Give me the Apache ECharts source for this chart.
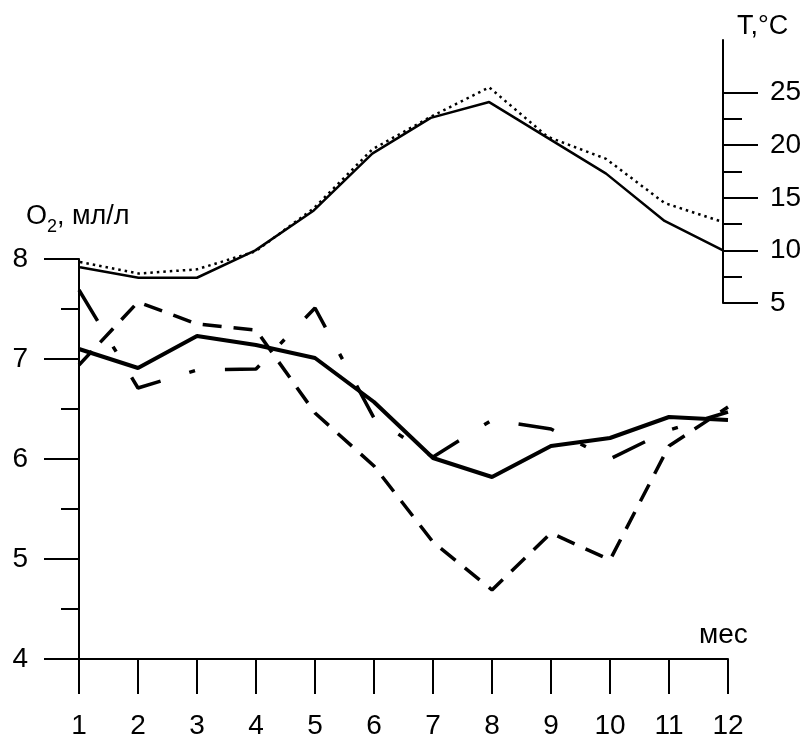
<!DOCTYPE html>
<html>
<head>
<meta charset="utf-8">
<script src="https://cdn.jsdelivr.net/npm/echarts@6/dist/echarts.min.js"></script>
<style>html,body{margin:0;padding:0;background:#fff}#c{width:809px;height:740px}</style>
</head>
<body>
<div id="c"></div>
<script>
// Months
const months = [1,2,3,4,5,6,7,8,9,10,11,12];
// Temperature, °C (right axis)
const tempSolid  = [8.4, 7.4, 7.4, 10.0, 13.8, 19.2, 22.6, 24.1, 20.7, 17.3, 12.8, 10.0];
const tempDotted = [8.9, 7.8, 8.2, 9.9, 14.0, 19.6, 22.7, 25.5, 20.8, 18.7, 14.5, 12.7];
// Oxygen, ml/l (left axis)
const o2Solid   = [7.10, 6.91, 7.23, 7.14, 7.01, 6.57, 6.01, 5.82, 6.13, 6.21, 6.42, 6.39];
const o2Dashed  = [6.94, 7.57, 7.35, 7.29, 6.46, 5.93, 5.17, 4.69, 5.26, 4.99, 6.13, 6.52];
const o2DashDot = [7.69, 6.71, 6.89, 6.90, 7.51, 6.41, 6.02, 6.39, 6.30, 6.00, 6.29, 6.47];
// Tick labels
const o2Ticks = [4,5,6,7,8];
const tMajor = [5,10,15,20,25];
const tMinor = [7.5,12.5,17.5,22.5];

const pair = (vals) => months.map((m,i)=>[m, vals[i]]);
const FONT = '"Liberation Sans", Arial, sans-serif';
const blk = '#000';
const FS = 28;

const chart = echarts.init(document.getElementById('c'), null, {renderer:'canvas'});
chart.setOption({
  animation: false,
  backgroundColor: '#fff',
  textStyle: {fontFamily: FONT, color: blk},
  title: [
    {text: '{a|O}{s|2}{a|, мл/л}', left: 26, top: 198, padding: 0,
     textStyle: {fontWeight: 'normal', rich: {
       a: {fontFamily: FONT, fontSize: 27, fontWeight: 'normal', color: blk, lineHeight: 38, verticalAlign: 'middle'},
       s: {fontFamily: FONT, fontSize: 18, fontWeight: 'normal', color: blk, lineHeight: 18, verticalAlign: 'bottom'}
     }}},
    {text: 'T,°C', left: 737, top: 13, padding: 0,
     textStyle: {fontFamily: FONT, fontSize: 27, fontWeight: 'normal', color: blk}},
    {text: 'мес', left: 699, top: 621, padding: 0,
     textStyle: {fontFamily: FONT, fontSize: FS, fontWeight: 'normal', color: blk}}
  ],
  grid: [
    {left: 79, top: 259, width: 649, height: 400, containLabel: false},
    {left: 80, top: 40, width: 643, height: 263, containLabel: false}
  ],
  xAxis: [
    {type: 'value', gridIndex: 0, min: 1, max: 12, interval: 1,
     axisLine: {show: true, onZero: false, lineStyle: {color: blk, width: 2}},
     axisTick: {show: true, inside: false, length: 35, lineStyle: {color: blk, width: 2}},
     axisLabel: {show: true, margin: 53, fontSize: FS, fontFamily: FONT, color: blk},
     splitLine: {show: false}},
    {type: 'value', gridIndex: 1, min: 1, max: 12, show: false, splitLine: {show: false}}
  ],
  yAxis: [
    {type: 'value', gridIndex: 0, min: 4, max: 8, interval: 1, position: 'left',
     axisLine: {show: true, lineStyle: {color: blk, width: 2}},
     axisTick: {show: true, inside: false, length: 35, lineStyle: {color: blk, width: 2}},
     minorTick: {show: true, splitNumber: 2, length: 18, lineStyle: {color: blk, width: 2}},
     axisLabel: {show: true, margin: 51, fontSize: FS, fontFamily: FONT, color: blk,
                 formatter: v => o2Ticks.includes(v) ? String(v) : ''},
     splitLine: {show: false}},
    {type: 'value', gridIndex: 1, min: 5, max: 30, interval: 5, position: 'right',
     axisLine: {show: true, onZero: false, lineStyle: {color: blk, width: 2}},
     axisTick: {show: true, inside: false, length: 35, customValues: tMajor, lineStyle: {color: blk, width: 2}},
     axisLabel: {show: true, margin: 47, fontSize: FS, fontFamily: FONT, color: blk, customValues: tMajor},
     splitLine: {show: false}},
    {type: 'value', gridIndex: 1, min: 5, max: 30, interval: 5, position: 'right',
     axisLine: {show: false},
     axisTick: {show: true, inside: false, length: 19, customValues: tMinor, lineStyle: {color: blk, width: 2}},
     axisLabel: {show: false},
     splitLine: {show: false}}
  ],
  series: [
    {type: 'line', xAxisIndex: 1, yAxisIndex: 1, data: pair(tempSolid), symbol: 'none',
     lineStyle: {color: blk, width: 2.5, type: 'solid'}},
    {type: 'line', xAxisIndex: 1, yAxisIndex: 1, data: pair(tempDotted), symbol: 'none',
     lineStyle: {color: blk, width: 2.5, type: [2.5, 4]}},
    {type: 'line', xAxisIndex: 0, yAxisIndex: 0, data: pair(o2Solid), symbol: 'none',
     lineStyle: {color: blk, width: 4, type: 'solid'}},
    {type: 'line', xAxisIndex: 0, yAxisIndex: 0, data: pair(o2Dashed), symbol: 'none',
     lineStyle: {color: blk, width: 3.5, type: [19, 12]}},
    {type: 'line', xAxisIndex: 0, yAxisIndex: 0, data: pair(o2DashDot), symbol: 'none',
     lineStyle: {color: blk, width: 3.5, type: [36, 30, 6, 30]}}
  ]
});
</script>
</body>
</html>
